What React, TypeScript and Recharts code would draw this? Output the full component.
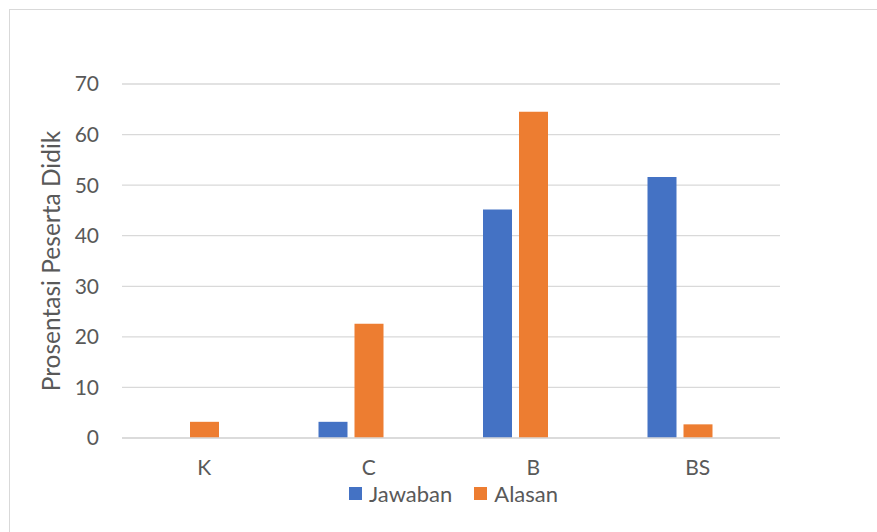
import React from 'react';
import {
  BarChart,
  Bar,
  XAxis,
  YAxis,
  CartesianGrid,
  Legend,
} from 'recharts';

const categories = ['K', 'C', 'B', 'BS'];
const jawaban = [0, 3.2, 45.2, 51.6];
const alasan = [3.2, 22.6, 64.5, 2.7];
// empty third series in the original workbook (keeps bar slots in place)
const kosong = [null, null, null, null];
const yTicks = [0, 10, 20, 30, 40, 50, 60, 70];

const data = categories.map((cat, i) => ({
  cat,
  Jawaban: jawaban[i],
  Alasan: alasan[i],
  Kosong: kosong[i],
}));

const series = [
  { key: 'Jawaban', color: '#4472C4' },
  { key: 'Alasan', color: '#ED7D31' },
];

const textColor = '#595959';
const gridColor = '#d9d9d9';
const font = 'Lato, Carlito, Calibri, sans-serif';

const LegendBox = () => (
  <div
    style={{
      display: 'flex',
      justifyContent: 'center',
      alignItems: 'center',
      height: 30,
      paddingLeft: 30,
      fontSize: 22,
      color: textColor,
      fontFamily: font,
    }}
  >
    {series.map((s, i) => (
      <div key={s.key} style={{ display: 'flex', alignItems: 'center', marginLeft: i ? 22 : 0 }}>
        <span style={{ width: 13, height: 13, background: s.color, marginRight: 7, display: 'inline-block' }} />
        <span>{s.key}</span>
      </div>
    ))}
  </div>
);

export default function App() {
  return (
    <div
      style={{
        position: 'absolute',
        left: 0,
        top: 0,
        width: 877,
        height: 532,
        overflow: 'hidden',
        background: '#fff',
        fontFamily: font,
      }}
    >
      <div
        style={{
          position: 'absolute',
          left: 9,
          top: 9,
          width: 920,
          height: 600,
          border: `1px solid ${gridColor}`,
        }}
      />
      <div style={{ position: 'absolute', left: 0, top: 0 }}>
        <BarChart
          width={877}
          height={532}
          data={data}
          margin={{ top: 84, right: 97, bottom: 24, left: 0 }}
          barSize={29}
          barGap={7}
        >
          <CartesianGrid vertical={false} stroke={gridColor} strokeWidth={1.3} />
          <XAxis
            dataKey="cat"
            height={40}
            axisLine={{ stroke: gridColor, strokeWidth: 1.3 }}
            tickLine={false}
            tickMargin={16}
            tick={{ fontSize: 21, fill: textColor, fontFamily: font }}
          />
          <YAxis
            width={122}
            domain={[0, 70]}
            ticks={yTicks}
            axisLine={false}
            tickLine={false}
            tickSize={6}
            tickMargin={17}
            tick={{ fontSize: 21, fill: textColor, fontFamily: font }}
            label={{
              value: 'Prosentasi Peserta Didik',
              angle: -90,
              position: 'insideLeft',
              dx: 46,
              style: { textAnchor: 'middle', fontSize: 24.5, fill: textColor, fontFamily: font },
            }}
          />
          <Legend
            verticalAlign="bottom"
            content={<LegendBox />}
            wrapperStyle={{ left: 0, width: 877 }}
          />
          <Bar dataKey="Jawaban" fill="#4472C4" isAnimationActive={false} />
          <Bar dataKey="Alasan" fill="#ED7D31" isAnimationActive={false} />
          <Bar dataKey="Kosong" fill="#A5A5A5" legendType="none" isAnimationActive={false} />
        </BarChart>
      </div>
    </div>
  );
}
